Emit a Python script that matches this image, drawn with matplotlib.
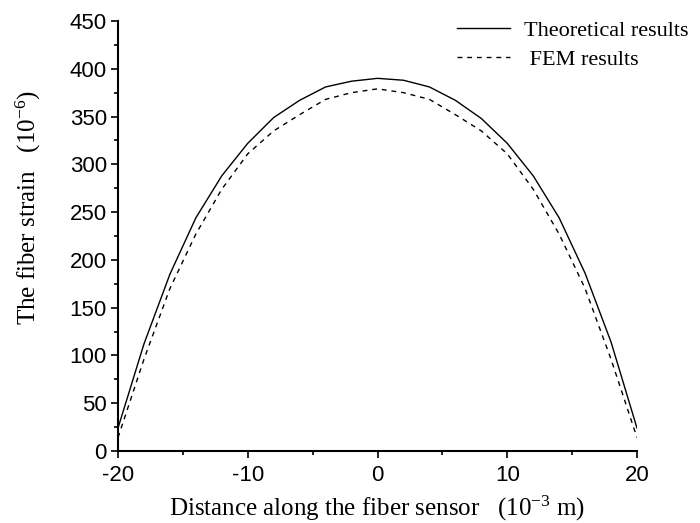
import matplotlib
matplotlib.use("Agg")
import matplotlib.pyplot as plt
from matplotlib.ticker import MultipleLocator

distance = [-20, -18, -16, -14, -12, -10, -8, -6, -4, -2, 0, 2, 4, 6, 8, 10, 12, 14, 16, 18, 20]
theoretical = [24, 112, 185, 244, 288, 322, 349, 367, 381, 387, 390, 388, 381, 367, 348, 322, 288, 244, 186, 114, 24]
fem = [14, 96, 170, 227, 274, 311, 335, 352, 368, 375, 379, 375, 368, 352, 335, 311, 274, 227, 170, 96, 14]

plt.rcParams['mathtext.fontset'] = 'custom'
plt.rcParams['mathtext.rm'] = 'Liberation Serif'
plt.rcParams['mathtext.it'] = 'Liberation Serif:italic'
plt.rcParams['axes.unicode_minus'] = False

fig = plt.figure(figsize=(7.0, 5.23), dpi=100)
ax = fig.add_axes([118/700, 1 - 451/523, (637 - 118)/700, (451 - 21)/523])

l1, = ax.plot(distance, theoretical, color='black', lw=1.0, label='Theoretical results')
l2, = ax.plot(distance, fem, color='black', lw=1.0, linestyle=(0, (3.5, 3.5)), label=' FEM results')

ax.set_xlim(-20, 20)
ax.set_ylim(0, 450)
ax.xaxis.set_major_locator(MultipleLocator(10))
ax.xaxis.set_minor_locator(MultipleLocator(5))
ax.yaxis.set_major_locator(MultipleLocator(50))
ax.yaxis.set_minor_locator(MultipleLocator(25))

for s in ['top', 'right']:
    ax.spines[s].set_visible(False)
for s in ['left', 'bottom']:
    ax.spines[s].set_linewidth(1.5)

ax.tick_params(which='major', direction='out', length=5, width=1.2, labelsize=16, pad=3)
ax.tick_params(axis='x', which='major', pad=5)
ax.tick_params(which='minor', direction='out', length=3, width=1.2)
for lab in ax.get_xticklabels() + ax.get_yticklabels():
    lab.set_fontfamily('Liberation Sans')

ax.set_xlabel('Distance along the fiber sensor   (10$^{-3}$ m)', fontfamily='Liberation Serif', fontsize=18, labelpad=6)
ax.set_ylabel('The fiber strain   (10$^{-6}$)', fontfamily='Liberation Serif', fontsize=18)
ax.yaxis.set_label_coords(-0.144, 0.567)

leg = fig.legend(handles=[l1, l2], loc='upper left', bbox_to_anchor=(457/700, 1 - 20/523),
                 frameon=False, borderpad=0, borderaxespad=0, handlelength=2.4,
                 handletextpad=0.6, labelspacing=0.4,
                 prop={'family': 'Liberation Serif', 'size': 16})

fig.savefig('out.png', dpi=100)
